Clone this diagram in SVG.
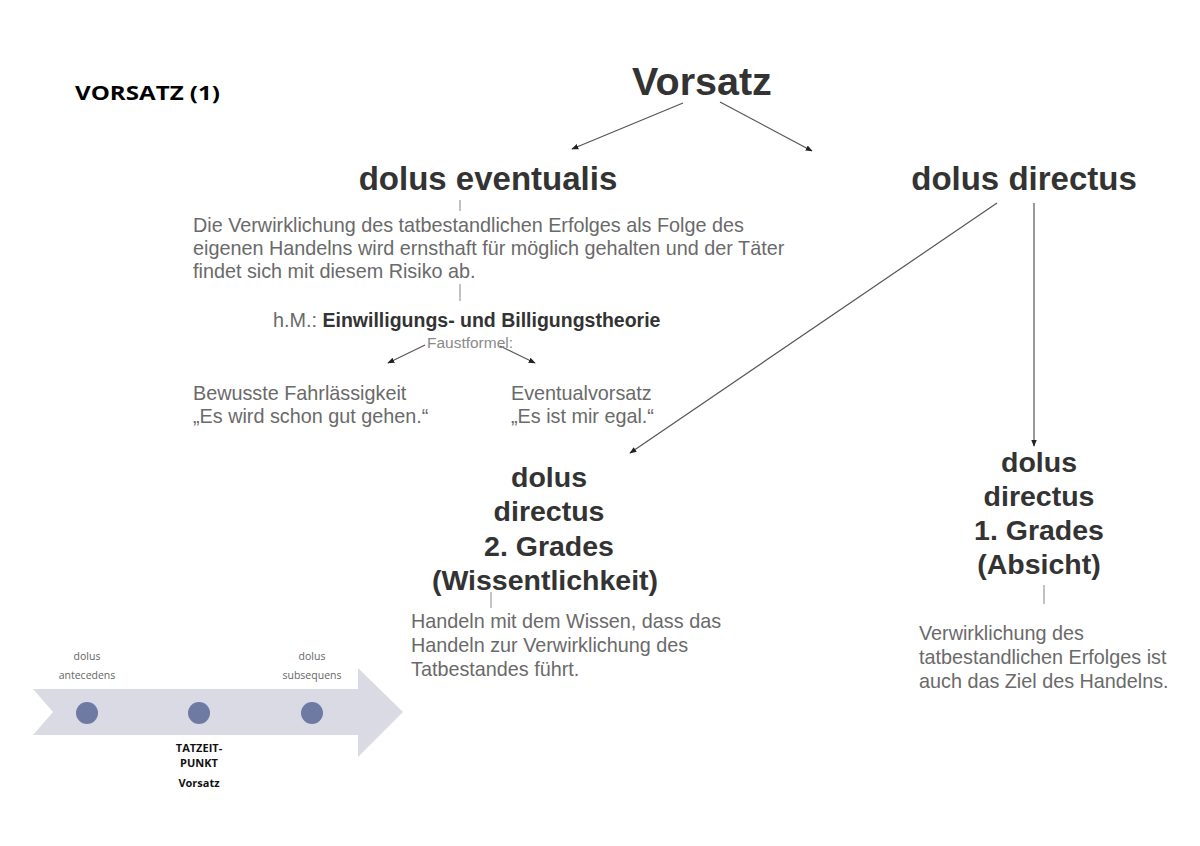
<svg xmlns="http://www.w3.org/2000/svg" width="1200" height="846" viewBox="0 0 1200 846">
<style>
.h{font-family:"Liberation Sans",Arial,sans-serif;font-weight:bold;fill:#333}
.t{font-family:"Liberation Sans",Arial,sans-serif;fill:#6a6a6a;font-size:19.8px}
.s{font-family:"Open Sans","Liberation Sans",sans-serif;fill:#666;font-size:10.5px}
.c{stroke:#555;stroke-width:1.2;fill:none}
.tick{stroke:#999;stroke-width:1.2}
</style>
<defs>
<marker id="ah" viewBox="0 0 10 10" refX="9" refY="5" markerWidth="7" markerHeight="7" orient="auto-start-reverse" markerUnits="userSpaceOnUse">
<path d="M0,1 L10,5 L0,9 z" fill="#222"/>
</marker>
</defs>
<rect width="1200" height="846" fill="#fff"/>
<g id="title">
<text x="75" y="100" style="font-family:'Open Sans','Liberation Sans',sans-serif;font-weight:bold;fill:#000;font-size:19px" textLength="145" lengthAdjust="spacingAndGlyphs">VORSATZ (1)</text>
</g>
<g id="connectors">
<line class="c" x1="683" y1="103" x2="572" y2="149" marker-end="url(#ah)"/>
<line class="c" x1="720" y1="102" x2="812" y2="151" marker-end="url(#ah)"/>
<line class="c" x1="997" y1="203" x2="630" y2="453" marker-end="url(#ah)"/>
<line class="c" x1="1034" y1="203" x2="1034" y2="446" marker-end="url(#ah)"/>
<line class="c" x1="425" y1="345" x2="388" y2="363" marker-end="url(#ah)"/>
<line class="c" x1="500" y1="346" x2="535" y2="363" marker-end="url(#ah)"/>
<line class="tick" x1="460" y1="200" x2="460" y2="211"/>
<line class="tick" x1="460" y1="284" x2="460" y2="301"/>
<line class="tick" x1="491" y1="592" x2="491" y2="608"/>
<line class="tick" x1="1044" y1="585" x2="1044" y2="604"/>
</g>
<g id="vorsatz">
<text x="702" y="95" class="h" style="font-size:39.5px" text-anchor="middle">Vorsatz</text>
</g>
<g id="dolus-eventualis">
<text x="488" y="190" class="h" style="font-size:33px" text-anchor="middle">dolus eventualis</text>
<text class="t"><tspan x="193" y="232">Die Verwirklichung des tatbestandlichen Erfolges als Folge des</tspan><tspan x="193" y="255">eigenen Handelns wird ernsthaft für möglich gehalten und der Täter</tspan><tspan x="193" y="278">findet sich mit diesem Risiko ab.</tspan></text>
</g>
<g id="theorie">
<text x="273" y="327" class="t">h.M.: <tspan class="h" style="font-size:19.5px">Einwilligungs- und Billigungstheorie</tspan></text>
<text x="470" y="348" class="t" style="font-size:15.5px;fill:#8a8a8a" text-anchor="middle">Faustformel:</text>
</g>
<g id="bewusste">
<text class="t"><tspan x="193" y="400">Bewusste Fahrlässigkeit</tspan><tspan x="193" y="423">„Es wird schon gut gehen.“</tspan></text>
</g>
<g id="eventualvorsatz">
<text class="t"><tspan x="511" y="400">Eventualvorsatz</tspan><tspan x="511" y="423">„Es ist mir egal.“</tspan></text>
</g>
<g id="dolus-directus">
<text x="1024" y="190" class="h" style="font-size:33px" text-anchor="middle">dolus directus</text>
</g>
<g id="dd2">
<text class="h" style="font-size:28.5px" text-anchor="middle"><tspan x="549" y="487">dolus</tspan><tspan x="549" y="521">directus</tspan><tspan x="549" y="556">2. Grades</tspan><tspan x="545" y="590">(Wissentlichkeit)</tspan></text>
<text class="t"><tspan x="411" y="628">Handeln mit dem Wissen, dass das</tspan><tspan x="411" y="652">Handeln zur Verwirklichung des</tspan><tspan x="411" y="676">Tatbestandes führt.</tspan></text>
</g>
<g id="dd1">
<text class="h" style="font-size:28.5px" text-anchor="middle"><tspan x="1039" y="472">dolus</tspan><tspan x="1039" y="506">directus</tspan><tspan x="1039" y="540">1. Grades</tspan><tspan x="1039" y="574">(Absicht)</tspan></text>
<text class="t"><tspan x="919" y="640">Verwirklichung des</tspan><tspan x="919" y="664">tatbestandlichen Erfolges ist</tspan><tspan x="919" y="688">auch das Ziel des Handelns.</tspan></text>
</g>
<g id="timeline">
<polygon points="33,689 358,689 358,668 403,712 358,757 358,735 33,735 53,712" fill="#d9dae3"/>
<circle cx="87" cy="713" r="11" fill="#6f7aa3"/>
<circle cx="199" cy="713" r="11" fill="#6f7aa3"/>
<circle cx="312" cy="713" r="11" fill="#6f7aa3"/>
<text class="s" text-anchor="middle"><tspan x="87" y="660">dolus</tspan><tspan x="87" y="679">antecedens</tspan></text>
<text class="s" text-anchor="middle"><tspan x="312" y="660">dolus</tspan><tspan x="312" y="679">subsequens</tspan></text>
<text class="s" style="font-weight:bold;fill:#111;font-size:11px" text-anchor="middle"><tspan x="199" y="752">TATZEIT-</tspan><tspan x="199" y="767">PUNKT</tspan><tspan x="199" y="787">Vorsatz</tspan></text>
</g>
</svg>
